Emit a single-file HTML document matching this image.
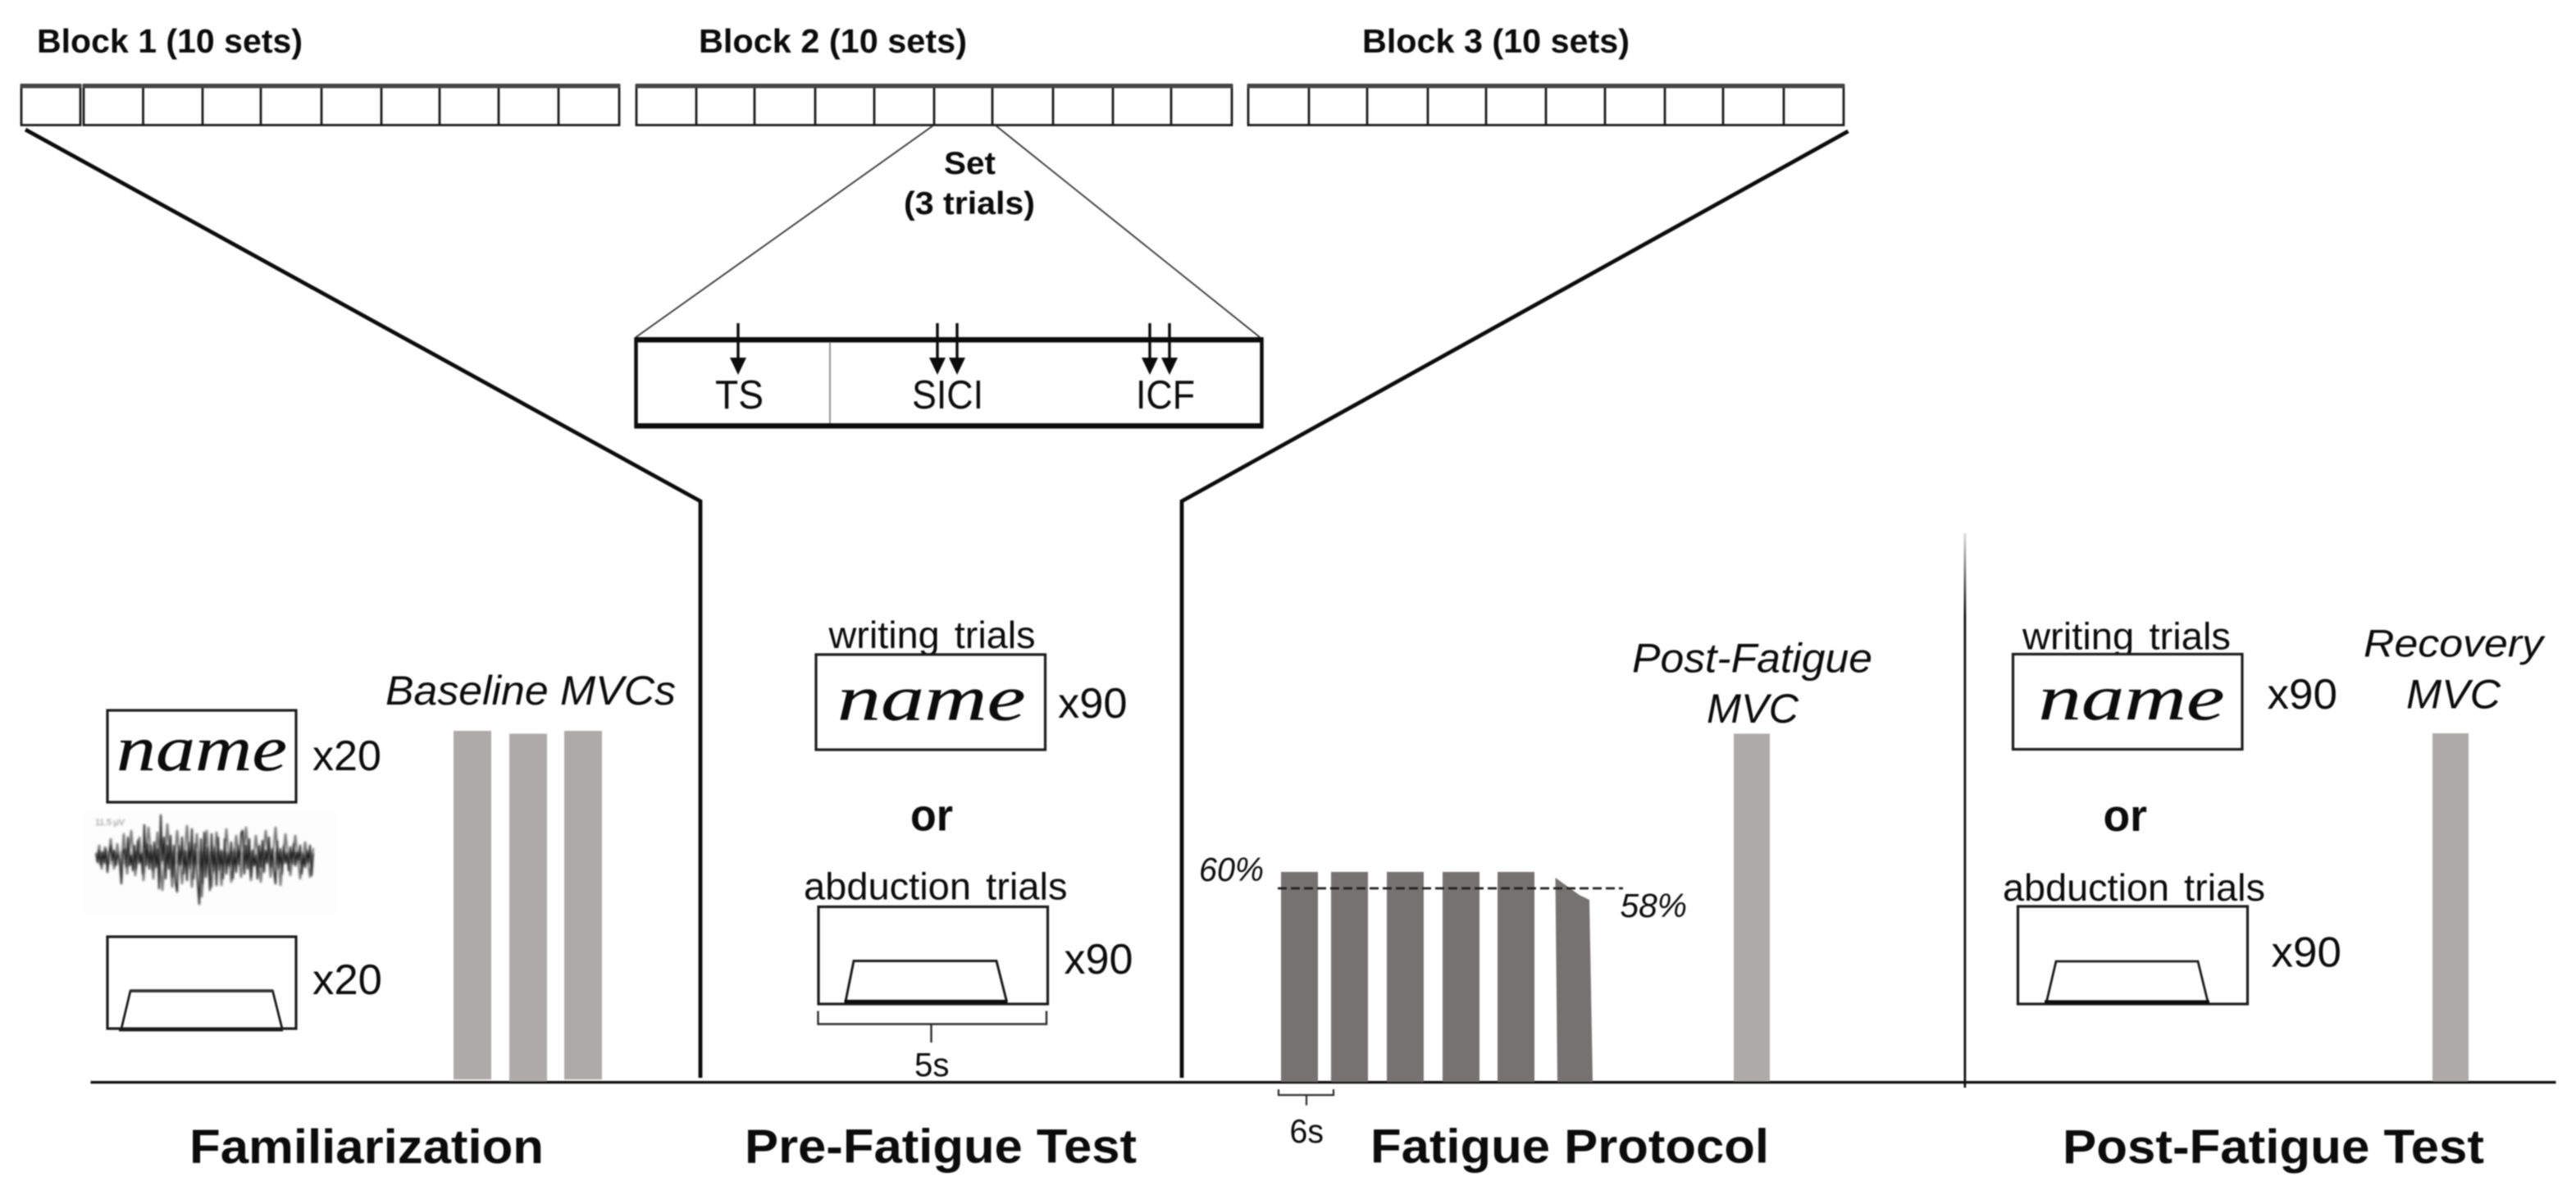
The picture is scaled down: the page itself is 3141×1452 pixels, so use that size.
<!DOCTYPE html>
<html>
<head>
<meta charset="utf-8">
<style>
html,body{margin:0;padding:0;background:#fff;width:3141px;height:1452px;overflow:hidden}
svg{display:block;filter:blur(0.75px)}
text{font-family:"Liberation Sans",sans-serif;fill:#0c0c0c}
.b{font-weight:700}
.i{font-style:italic}
.n{font-family:"Liberation Serif",serif;font-style:italic;font-size:78px;stroke:#000;stroke-width:0.3px}
.w{word-spacing:5px}
</style>
</head>
<body>
<svg xmlns="http://www.w3.org/2000/svg" width="3141" height="1452" viewBox="0 0 3141 1452">
<defs><filter id="bl" x="-5%" y="-20%" width="110%" height="140%"><feGaussianBlur stdDeviation="1.1"/></filter></defs>
<rect width="3141" height="1452" fill="#fff"/>

<!-- block labels -->
<text class="b" font-size="41" x="45" y="64" textLength="324" lengthAdjust="spacingAndGlyphs">Block 1 (10 sets)</text>
<text class="b" font-size="41" x="852" y="64" textLength="327" lengthAdjust="spacingAndGlyphs">Block 2 (10 sets)</text>
<text class="b" font-size="41" x="1661" y="64" textLength="326" lengthAdjust="spacingAndGlyphs">Block 3 (10 sets)</text>

<!-- strips -->
<g fill="none" stroke="#1c1c1c" stroke-width="2.8">
<rect x="26" y="104" width="72" height="48.5"/>
<rect x="102" y="104" width="653" height="48.5"/>
<rect x="776" y="104" width="726" height="48.5"/>
<rect x="1522" y="104" width="726" height="48.5"/>
<path d="M174.5 104V152M247 104V152M318 104V152M392 104V152M465 104V152M536 104V152M608 104V152M681 104V152"/>
<path d="M849 104V152M920 104V152M994 104V152M1066 104V152M1139 104V152M1210 104V152M1284 104V152M1357 104V152M1428 104V152"/>
<path d="M1596 104V152M1667 104V152M1741 104V152M1812 104V152M1885 104V152M1957 104V152M2030 104V152M2101 104V152M2175 104V152"/>
</g>
<g fill="#444">
<rect x="25" y="102" width="74" height="5.5"/>
<rect x="101" y="102" width="655" height="5.5"/>
<rect x="775" y="102" width="728" height="5.5"/>
<rect x="1521" y="102" width="728" height="5.5"/>
</g>

<!-- funnel lines -->
<path d="M31 158L854 611V1314" fill="none" stroke="#0c0c0c" stroke-width="4.8"/>
<path d="M2253.5 160L1441 611V1314" fill="none" stroke="#0c0c0c" stroke-width="4.8"/>
<path d="M1138 153L775.5 411M1214 153L1536 411" fill="none" stroke="#333" stroke-width="1.8"/>

<!-- Set labels -->
<text class="b" x="1151" y="212" font-size="39" textLength="63" lengthAdjust="spacingAndGlyphs">Set</text>
<text class="b" x="1102" y="261" font-size="39" textLength="160" lengthAdjust="spacingAndGlyphs">(3 trials)</text>

<!-- Set box -->
<rect x="775.5" y="414" width="763" height="105" fill="#fff" stroke="#0c0c0c" stroke-width="4.5"/>
<rect x="773.5" y="411" width="767" height="6.5" fill="#0c0c0c"/>
<rect x="773.5" y="516" width="767" height="6.5" fill="#0c0c0c"/>
<path d="M1012 417V516" stroke="#888" stroke-width="1.8"/>
<g stroke="#0c0c0c" stroke-width="3.4" fill="#0c0c0c">
<path d="M900 394V440M1143 394V440M1167 394V440M1402 394V440M1426 394V440"/>
<g stroke="none">
<path d="M890 436H910L900 457Z"/>
<path d="M1133 436H1153L1143 457Z"/>
<path d="M1157 436H1177L1167 457Z"/>
<path d="M1392 436H1412L1402 457Z"/>
<path d="M1416 436H1436L1426 457Z"/>
</g>
</g>
<text x="872" y="498" font-size="49" textLength="59" lengthAdjust="spacingAndGlyphs">TS</text>
<text x="1112" y="498" font-size="49" textLength="87" lengthAdjust="spacingAndGlyphs">SICI</text>
<text x="1385" y="498" font-size="49" textLength="72" lengthAdjust="spacingAndGlyphs">ICF</text>

<!-- axis -->
<path d="M110.5 1319.5H3116.5" stroke="#0c0c0c" stroke-width="3.2"/>
<defs><linearGradient id="vg" x1="0" y1="650" x2="0" y2="750" gradientUnits="userSpaceOnUse"><stop offset="0" stop-color="#ddd"/><stop offset="1" stop-color="#111"/></linearGradient></defs>
<rect x="2394.5" y="650" width="2.8" height="676" fill="url(#vg)"/>

<!-- Familiarization -->
<text class="i" x="470" y="859" font-size="50" textLength="354" lengthAdjust="spacingAndGlyphs">Baseline MVCs</text>
<rect x="131" y="866" width="230" height="112" fill="none" stroke="#1c1c1c" stroke-width="3.2"/>
<text class="n" x="142" y="939" textLength="208" lengthAdjust="spacingAndGlyphs">name</text>
<text x="381" y="939" font-size="52" textLength="84" lengthAdjust="spacingAndGlyphs">x20</text>

<rect x="100" y="990" width="312" height="127" fill="#fdfdfd"/>
<text x="116" y="1006" font-size="11" style="fill:#888" textLength="36" filter="url(#bl)">11.5 µV</text>
<g filter="url(#bl)" fill="none">
<path d="M120 1046H380" stroke="#555" stroke-width="16" opacity=".4"/>
<polyline stroke="#777" stroke-width="2.4" points="118,1048 121,1030 124,1060 128,1032 131,1058 135,1022 139,1060 143,1028 147,1062 151,1016 155,1066 160,1012 165,1068 170,1020 175,1074 181,1008 187,1072 192,1014 198,1086 204,1004 210,1082 216,1012 222,1078 228,1006 234,1082 240,1016 246,1094 252,1012 258,1082 264,1014 270,1080 276,1010 282,1076 288,1018 294,1070 300,1008 306,1074 312,1018 318,1076 324,1012 330,1070 336,1008 342,1080 348,1016 354,1068 360,1018 366,1072 372,1026 378,1070 382,1034"/>
<polyline stroke="#222" stroke-width="1.9" points="117,1040 119,1052 121,1036 123,1056 125,1038 127,1052 129,1034 131,1064 133,1042 135,1030 137,1050 139,1036 141,1056 143,1040 146,1050 148,1078 150,1040 152,1034 154,1058 156,1020 158,1056 160,1042 162,1062 164,1030 166,1060 168,1024 170,1052 172,1040 174,1066 176,1005 178,1056 180,1028 182,1060 184,1030 186,1062 188,1026 190,1058 192,1034 194,1084 196,993 198,1050 200,1020 202,1072 204,1030 206,1060 208,1018 210,1070 212,1030 214,1076 216,1088 218,1030 220,1056 222,1020 224,1066 226,1036 228,1074 230,1026 232,1060 234,1010 236,1072 238,1028 240,1064 243,1103 245,1022 247,1078 249,1014 251,1070 253,1032 256,1086 258,1016 260,1064 262,1032 264,1080 266,1020 268,1062 270,1036 272,1072 274,1022 276,1066 278,1040 280,1058 282,1026 284,1072 286,1034 288,1064 290,1030 292,1056 294,1016 296,1012 298,1066 300,1030 302,1060 304,1022 306,1070 308,1036 310,1056 312,1042 314,1072 316,1030 318,1058 320,1024 322,1064 324,1036 326,1052 328,1020 330,1058 332,1034 334,1062 336,1078 338,1024 340,1060 342,1034 344,1066 346,1030 348,1052 350,1040 352,1062 354,1032 356,1054 358,1028 360,1056 362,1038 364,1050 366,1030 368,1066 370,1040 372,1058 374,1036 376,1052 378,1030 380,1068 382,1040"/>
</g>

<rect x="131" y="1142" width="230" height="112" fill="none" stroke="#1c1c1c" stroke-width="3.2"/>
<path d="M148 1254L159 1208H332.5L344 1254" fill="none" stroke="#1c1c1c" stroke-width="2.8"/>
<path d="M159 1208H332.5" stroke="#333" stroke-width="3.8"/>
<path d="M145 1255.5H345" stroke="#1c1c1c" stroke-width="3.8"/>
<text x="381" y="1212" font-size="52" textLength="85" lengthAdjust="spacingAndGlyphs">x20</text>

<g fill="#aeaaa9">
<rect x="553" y="891" width="46" height="425"/>
<rect x="621" y="894.5" width="46" height="424"/>
<rect x="688" y="891" width="46" height="425"/>
<rect x="2114" y="894.5" width="44" height="424"/>
<rect x="2966" y="894" width="44" height="424.5"/>
</g>

<text class="b" x="231" y="1418" font-size="58" textLength="432" lengthAdjust="spacingAndGlyphs">Familiarization</text>

<!-- Pre-Fatigue -->
<text class="w" x="1010.5" y="790" font-size="46" textLength="252" lengthAdjust="spacingAndGlyphs">writing trials</text>
<rect x="995" y="798" width="279.5" height="116" fill="#fff" stroke="#1c1c1c" stroke-width="3.2"/>
<text class="n" x="1021" y="877.5" textLength="229.5" lengthAdjust="spacingAndGlyphs">name</text>
<text x="1290" y="875" font-size="52" textLength="84.5" lengthAdjust="spacingAndGlyphs">x90</text>
<text class="b" x="1110" y="1012.5" font-size="55" textLength="52" lengthAdjust="spacingAndGlyphs">or</text>
<text class="w" x="980" y="1096.5" font-size="46" textLength="321.5" lengthAdjust="spacingAndGlyphs">abduction trials</text>
<rect x="998" y="1105.5" width="279.5" height="118.5" fill="none" stroke="#1c1c1c" stroke-width="3.2"/>
<path d="M1031 1221L1041 1171.5H1215L1227.5 1221" fill="none" stroke="#1c1c1c" stroke-width="3"/>
<path d="M1029.5 1221H1228.5" stroke="#0c0c0c" stroke-width="4.2"/>
<text x="1297.5" y="1187" font-size="52" textLength="84" lengthAdjust="spacingAndGlyphs">x90</text>
<path d="M997.5 1232.5V1248.5H1276V1232.5M1135.5 1248.5V1271" fill="none" stroke="#2c2c2c" stroke-width="2.4"/>
<text x="1115" y="1312" font-size="41" textLength="42.5" lengthAdjust="spacingAndGlyphs">5s</text>
<text class="b" x="908" y="1417.5" font-size="58" textLength="478" lengthAdjust="spacingAndGlyphs">Pre-Fatigue Test</text>

<!-- Fatigue -->
<text class="i" x="1462" y="1074" font-size="41" textLength="79" lengthAdjust="spacingAndGlyphs">60%</text>
<g fill="#767271">
<rect x="1562" y="1063" width="45" height="256"/>
<rect x="1623" y="1063" width="45" height="256"/>
<rect x="1691" y="1063" width="45" height="256"/>
<rect x="1759" y="1063" width="45" height="256"/>
<rect x="1826" y="1063" width="45" height="256"/>
<path d="M1896.5 1070L1925.5 1091L1938 1097L1942 1319H1899Z"/>
</g>
<path d="M1558 1083H1979" stroke="#222" stroke-width="2.8" stroke-dasharray="11 5"/>
<text class="i" x="1975.5" y="1118" font-size="41" textLength="81.5" lengthAdjust="spacingAndGlyphs">58%</text>
<text class="i" x="1990" y="819.5" font-size="50" textLength="293" lengthAdjust="spacingAndGlyphs">Post-Fatigue</text>
<text class="i" x="2081" y="881" font-size="50" textLength="112" lengthAdjust="spacingAndGlyphs">MVC</text>
<path d="M1559 1328V1335H1626V1328M1593 1335V1347.5" fill="none" stroke="#2c2c2c" stroke-width="2.2"/>
<text x="1572.5" y="1393" font-size="41" textLength="41.5" lengthAdjust="spacingAndGlyphs">6s</text>
<text class="b" x="1671" y="1417.5" font-size="58" textLength="486" lengthAdjust="spacingAndGlyphs">Fatigue Protocol</text>

<!-- Post-Fatigue -->
<text class="w" x="2466" y="791.5" font-size="46" textLength="254" lengthAdjust="spacingAndGlyphs">writing trials</text>
<rect x="2454.5" y="797.5" width="279.5" height="116" fill="#fff" stroke="#1c1c1c" stroke-width="3.2"/>
<text class="n" x="2485.5" y="877" textLength="227" lengthAdjust="spacingAndGlyphs">name</text>
<text x="2764.5" y="864" font-size="52" textLength="85.5" lengthAdjust="spacingAndGlyphs">x90</text>
<text class="b" x="2564.5" y="1013" font-size="55" textLength="53.5" lengthAdjust="spacingAndGlyphs">or</text>
<text class="w" x="2442" y="1098" font-size="46" textLength="320" lengthAdjust="spacingAndGlyphs">abduction trials</text>
<rect x="2460.5" y="1105" width="280" height="119" fill="none" stroke="#1c1c1c" stroke-width="3.2"/>
<path d="M2495.5 1221L2507 1172H2680L2692 1221" fill="none" stroke="#1c1c1c" stroke-width="2.8"/>
<path d="M2493 1221.5H2694" stroke="#0c0c0c" stroke-width="4.2"/>
<text x="2769.5" y="1178.5" font-size="52" textLength="85.5" lengthAdjust="spacingAndGlyphs">x90</text>
<text class="i" x="2882" y="800.5" font-size="47" textLength="219" lengthAdjust="spacingAndGlyphs">Recovery</text>
<text class="i" x="2934" y="863.5" font-size="50" textLength="115" lengthAdjust="spacingAndGlyphs">MVC</text>
<text class="b" x="2515" y="1418" font-size="58" textLength="514" lengthAdjust="spacingAndGlyphs">Post-Fatigue Test</text>
</svg>
</body>
</html>
